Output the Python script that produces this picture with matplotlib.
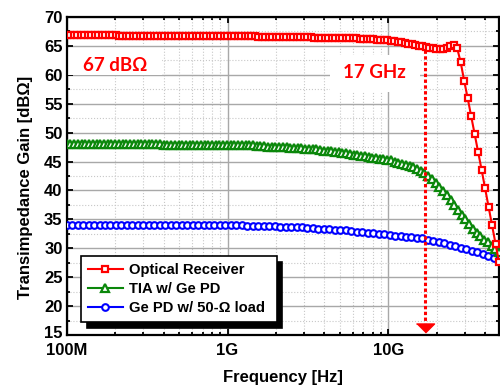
import numpy as np
import matplotlib
matplotlib.use("Agg")
import matplotlib.pyplot as plt
from matplotlib.patches import Rectangle
from matplotlib.transforms import ScaledTranslation
from matplotlib.ticker import FixedLocator, LogLocator, MultipleLocator, NullFormatter

# frequency sweeps (log spaced, start / stop / number of points)
f_start = 1e8
f_stop = 4.88e10
n_red = 125
n_green = 117
n_blue = 80

# Optical Receiver [dBOhm]
gain_red = [
    66.9, 66.9, 66.9, 66.9, 66.9, 66.9, 66.9, 66.9, 66.9, 66.9,
    66.9, 66.9, 66.9, 66.9, 66.9, 66.8, 66.8, 66.8, 66.8, 66.8,
    66.8, 66.8, 66.8, 66.8, 66.8, 66.8, 66.8, 66.8, 66.8, 66.8,
    66.8, 66.7, 66.7, 66.7, 66.7, 66.7, 66.7, 66.7, 66.7, 66.7,
    66.7, 66.7, 66.7, 66.7, 66.7, 66.7, 66.7, 66.7, 66.7, 66.7,
    66.7, 66.7, 66.7, 66.7, 66.7, 66.6, 66.6, 66.6, 66.6, 66.6,
    66.6, 66.6, 66.6, 66.5, 66.5, 66.5, 66.5, 66.5, 66.5, 66.5,
    66.5, 66.4, 66.4, 66.4, 66.4, 66.4, 66.4, 66.4, 66.3, 66.3,
    66.3, 66.3, 66.3, 66.3, 66.2, 66.2, 66.2, 66.2, 66.2, 66.1,
    66.1, 66.1, 66.0, 65.9, 65.8, 65.7, 65.6, 65.5, 65.4, 65.3,
    65.2, 65.0, 64.9, 64.8, 64.7, 64.6, 64.5, 64.5, 64.5, 64.6,
    64.9, 65.1, 64.6, 62.2, 59.0, 56.0, 52.9, 49.8, 46.7, 43.6,
    40.4, 37.2, 34.0, 30.8, 27.6,
]

# TIA w/ Ge PD [dBOhm]
gain_green = [
    48.0, 48.0, 48.0, 48.0, 48.0, 48.0, 48.0, 48.0, 48.0, 48.0,
    48.0, 48.0, 48.0, 48.0, 48.0, 48.0, 48.0, 48.0, 48.0, 48.0,
    48.0, 48.0, 48.0, 48.0, 48.0, 48.0, 47.9, 47.9, 47.9, 47.9,
    47.9, 47.9, 47.9, 47.9, 47.9, 47.9, 47.9, 47.9, 47.9, 47.9,
    47.9, 47.9, 47.9, 47.9, 47.9, 47.9, 47.9, 47.8, 47.8, 47.8,
    47.8, 47.7, 47.7, 47.7, 47.6, 47.6, 47.6, 47.5, 47.5, 47.5,
    47.4, 47.4, 47.3, 47.3, 47.2, 47.2, 47.1, 47.1, 47.0, 46.9,
    46.9, 46.8, 46.7, 46.6, 46.5, 46.4, 46.3, 46.2, 46.1, 46.0,
    45.9, 45.8, 45.7, 45.6, 45.5, 45.4, 45.3, 45.2, 45.0, 44.8,
    44.6, 44.4, 44.2, 44.0, 43.7, 43.4, 43.0, 42.5, 41.9, 41.3,
    40.6, 39.9, 39.2, 38.4, 37.5, 36.6, 35.8, 35.0, 34.2, 33.4,
    32.7, 32.1, 31.5, 31.0, 30.4, 29.8, 29.3,
]

# Ge PD w/ 50-Ohm load [dBOhm]
gain_blue = [
    34.1, 34.1, 34.1, 34.1, 34.1, 34.1, 34.1, 34.1, 34.1, 34.1,
    34.1, 34.1, 34.1, 34.1, 34.1, 34.0, 34.0, 34.0, 34.0, 34.0,
    34.0, 34.0, 34.0, 34.0, 34.0, 34.0, 34.0, 34.0, 34.0, 34.0,
    34.0, 34.0, 34.0, 33.9, 33.9, 33.9, 33.8, 33.8, 33.8, 33.7,
    33.7, 33.7, 33.6, 33.6, 33.5, 33.5, 33.4, 33.4, 33.3, 33.2,
    33.2, 33.1, 33.0, 32.9, 32.8, 32.7, 32.6, 32.5, 32.4, 32.3,
    32.2, 32.1, 32.0, 31.9, 31.8, 31.7, 31.5, 31.3, 31.1, 30.9,
    30.6, 30.4, 30.1, 29.8, 29.6, 29.3, 29.0, 28.7, 28.4, 28.1,
]

labels = ["Optical Receiver", "TIA w/ Ge PD", "Ge PD w/ 50-\u03a9 load"]
x_ticks = [1e8, 1e9, 1e10]
x_ticklabels = ["100M", "1G", "10G"]
y_ticks = [15, 20, 25, 30, 35, 40, 45, 50, 55, 60, 65, 70]
bw_freq = 1.7e10
bw_top = 64.3
bw_bottom = 17.0
bw_head = 16.2

f_red = np.geomspace(f_start, f_stop, n_red)
f_green = np.geomspace(f_start, f_stop, n_green)
f_blue = np.geomspace(f_start, f_stop, n_blue)

plt.rcParams["font.family"] = ["Liberation Sans", "DejaVu Sans"]
plt.rcParams["font.weight"] = "bold"

fig = plt.figure(figsize=(5, 3.89), dpi=100)
ax = fig.add_axes([0.1334, 0.1388, 0.8646, 0.8175])

mk = dict(markerfacecolor="white", linewidth=1.5)
l1, = ax.plot(f_red, gain_red, "-s", color="#ff0000", markersize=4.6,
              markeredgewidth=1.6, zorder=5, **mk)
l2, = ax.plot(f_green, gain_green, "-^", color="#0a870a", markersize=5.4,
              markeredgewidth=1.6, zorder=4, **mk)
l3, = ax.plot(f_blue, gain_blue, "-o", color="#0000ff", markersize=4.8,
              markeredgewidth=1.5, zorder=3, **mk)

# 3-dB bandwidth marker
ax.plot([bw_freq, bw_freq], [bw_top, bw_bottom], color="#ff0000", linewidth=2.2,
        dashes=(1.1, 0.8), zorder=6)
ax.plot([bw_freq], [bw_head], marker=[(-1, 0.5), (1, 0.5), (0, -0.5)],
        markersize=13, color="#ff0000", linestyle="none", zorder=6, clip_on=False)

ax.set_xscale("log")
ax.set_xlim(f_start, f_stop)
ax.set_ylim(15, 70)

ax.xaxis.set_major_locator(FixedLocator(x_ticks))
ax.set_xticklabels(x_ticklabels)
ax.xaxis.set_minor_locator(LogLocator(base=10, subs=np.arange(2, 10)))
ax.xaxis.set_minor_formatter(NullFormatter())
ax.yaxis.set_major_locator(FixedLocator(y_ticks))
ax.set_yticklabels([str(v) for v in y_ticks])
ax.yaxis.set_minor_locator(MultipleLocator(2.5))

ax.grid(which="major", color="#a8a8a8", linewidth=1.0, linestyle="-", zorder=0)
ax.grid(which="minor", color="#c8c8c8", linewidth=0.8, linestyle=":", zorder=0)
ax.set_axisbelow(True)

ax.tick_params(which="both", direction="in", top=True, right=True, width=1.3,
               labelsize=12)
ax.tick_params(which="major", length=4.5)
ax.tick_params(which="minor", length=2.5)
ax.tick_params(axis="x", which="major", pad=5.5)
ax.tick_params(axis="y", which="major", pad=3)
for s in ax.spines.values():
    s.set_linewidth(1.6)

# lift the bottom y label a little so it clears "100M"
lab15 = ax.get_yticklabels()[0]
lab15.set_transform(lab15.get_transform() + ScaledTranslation(0, 2 / 72, fig.dpi_scale_trans))

ax.set_xlabel("Frequency [Hz]", fontsize=12, fontweight="bold", labelpad=9)
ax.set_ylabel("Transimpedance Gain [dB\u03a9]", fontsize=12, fontweight="bold")
ax.yaxis.set_label_coords(-0.078, 0.464)

# white boxes behind the annotations
ax.add_patch(Rectangle((0.002, 0.818), 0.218, 0.084, transform=ax.transAxes,
                       facecolor="white", edgecolor="none", zorder=2))
ax.add_patch(Rectangle((0.609, 0.764), 0.208, 0.116, transform=ax.transAxes,
                       facecolor="white", edgecolor="none", zorder=2))
ax.text(0.112, 0.849, "67 dB\u03a9", transform=ax.transAxes, color="#ff0000",
        fontsize=13.5, fontweight="bold", family=["Lato", "DejaVu Sans"],
        ha="center", va="center", zorder=7)
ax.text(0.712, 0.824, "17 GHz", transform=ax.transAxes, color="#ff0000",
        fontsize=13.5, fontweight="bold", family=["Lato", "DejaVu Sans"],
        ha="center", va="center", zorder=7)

leg = ax.legend([l1, l2, l3], labels, loc="lower left",
                bbox_to_anchor=(0.033, 0.041, 0.453, 0.198), mode="expand",
                borderaxespad=0, fancybox=False, framealpha=1, edgecolor="black",
                fontsize=10.6, handlelength=2.4, labelspacing=0.35, handletextpad=0.4,
                borderpad=0.45,
                shadow={"ox": 4, "oy": -4, "color": "black", "alpha": 1})
leg.get_frame().set_linewidth(1.2)
leg.set_zorder(10)

fig.savefig("out.png", dpi=100)
